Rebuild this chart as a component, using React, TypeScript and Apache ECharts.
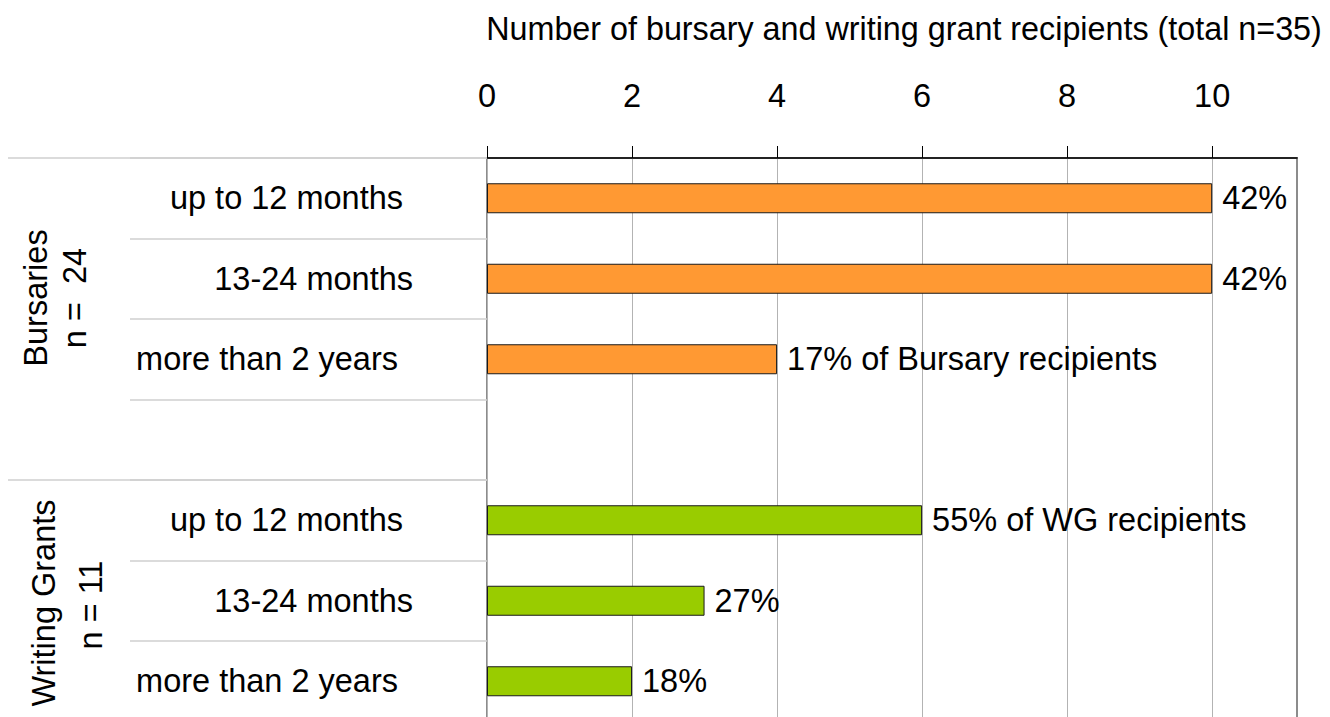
import React, { useEffect, useRef } from "react";
import * as echarts from "echarts";

const categories = [
  "up to 12 months",
  "13-24 months",
  "more than 2 years",
  "",
  "up to 12 months",
  "13-24 months",
  "more than 2 years",
];
const bursaryValues = [10, 10, 4];
const bursaryLabels = ["42%", "42%", "17% of Bursary recipients"];
const wgValues = [6, 3, 2];
const wgLabels = ["55% of WG recipients", "27%", "18%"];
const xTicks = [0, 2, 4, 6, 8, 10];
const axisTitle = "Number of bursary and writing grant recipients (total n=35)";
const groupTitles = [
  ["Bursaries", "n =  24"],
  ["Writing Grants", "n = 11"],
];

// style-only: extra right padding for each category label
const labelPadRight = [10, 0, 15, 0, 10, 0, 15];

const FONT = "'Liberation Sans', Arial, Helvetica, sans-serif";
const FS = 32.5;

export default function App() {
  const ref = useRef<HTMLDivElement>(null);
  useEffect(() => {
    if (!ref.current) return;
    const chart = echarts.init(ref.current, null, { renderer: "svg" });
    const n = categories.length;
    const bSeries: any[] = categories.map((_, i) =>
      i < bursaryValues.length ? bursaryValues[i] : "-"
    );
    const gStart = n - wgValues.length;
    const gSeries: any[] = categories.map((_, i) =>
      i >= gStart ? wgValues[i - gStart] : "-"
    );
    const allLabels: string[] = categories.map((_, i) =>
      i < bursaryLabels.length ? bursaryLabels[i] : i >= gStart ? wgLabels[i - gStart] : ""
    );
    const labelStyle = {
      show: true,
      position: "right",
      distance: 10,
      fontSize: FS,
      color: "#000",
      fontFamily: FONT,
      formatter: (p: any) => allLabels[p.dataIndex],
    };
    const catData = categories.map((c, i) => ({
      value: c,
      textStyle: { padding: [0, labelPadRight[i], 0, 0] },
    }));

    const gtext = (t: string, x: number, y: number) => ({
      type: "text",
      x,
      y,
      rotation: Math.PI / 2,
      style: { text: t, fontSize: FS, fill: "#000", fontFamily: FONT, align: "center", verticalAlign: "middle" },
    });

    chart.setOption({
      animation: false,
      textStyle: { fontFamily: FONT },
      grid: {
        left: 487,
        right: 33,
        top: 158,
        height: 563.5,
        show: true,
        borderColor: "#8c8c8c",
        borderWidth: 2,
        containLabel: false,
        outerBoundsMode: "none",
      },
      xAxis: {
        type: "value",
        position: "top",
        min: 0,
        max: 11.17,
        interval: 2,
        name: axisTitle,
        nameLocation: "middle",
        nameGap: 113,
        nameTextStyle: {
          fontSize: 32.3,
          color: "#000",
          fontFamily: FONT,
          padding: [0, 0, 0, 24],
        },
        axisLine: { show: true, lineStyle: { color: "#000", width: 1.5 } },
        axisTick: {
          show: true,
          length: 12,
          customValues: xTicks,
          lineStyle: { color: "#000", width: 1 },
        },
        axisLabel: {
          customValues: xTicks,
          fontSize: FS,
          color: "#000",
          fontFamily: FONT,
          margin: 46,
          formatter: (v: number) => (xTicks.indexOf(v) >= 0 ? String(v) : ""),
        },
        splitLine: { show: true, lineStyle: { color: "#b3b3b3", width: 1 } },
      },
      yAxis: [
        {
          type: "category",
          inverse: true,
          position: "left",
          data: catData,
          axisLine: { show: false },
          axisTick: {
            show: true,
            length: 357,
            lineStyle: { color: "#cfcfcf", width: 1.5 },
          },
          axisLabel: {
            interval: 0,
            align: "right",
            margin: 74,
            fontSize: FS,
            color: "#000",
            fontFamily: FONT,
          },
          splitLine: { show: false },
        },
        {
          type: "category",
          inverse: true,
          position: "left",
          data: categories,
          axisLine: { show: false },
          axisTick: {
            show: true,
            length: 479,
            interval: (i: number) => i === 0 || i === gStart,
            lineStyle: { color: "#cfcfcf", width: 1.5 },
          },
          axisLabel: { show: false },
          splitLine: { show: false },
        },
      ],
      series: [
        {
          type: "bar",
          yAxisIndex: 0,
          stack: "all",
          data: bSeries,
          barWidth: 30,
          itemStyle: { color: "#FF9933", borderColor: "#1a1a1a", borderWidth: 1 },
          label: labelStyle,
        },
        {
          type: "bar",
          yAxisIndex: 0,
          stack: "all",
          data: gSeries,
          barWidth: 30,
          itemStyle: { color: "#99CC00", borderColor: "#1a1a1a", borderWidth: 1 },
          label: labelStyle,
        },
      ],
      graphic: [
        gtext(groupTitles[0][0], 36, 298),
        gtext(groupTitles[0][1], 75, 298),
        gtext(groupTitles[1][0], 44, 603),
        gtext(groupTitles[1][1], 91, 605),
      ],
    });
    return () => chart.dispose();
  }, []);
  return (
    <div
      ref={ref}
      style={{ position: "fixed", left: 0, top: 0, width: 1330, height: 717, background: "#fff" }}
    />
  );
}
